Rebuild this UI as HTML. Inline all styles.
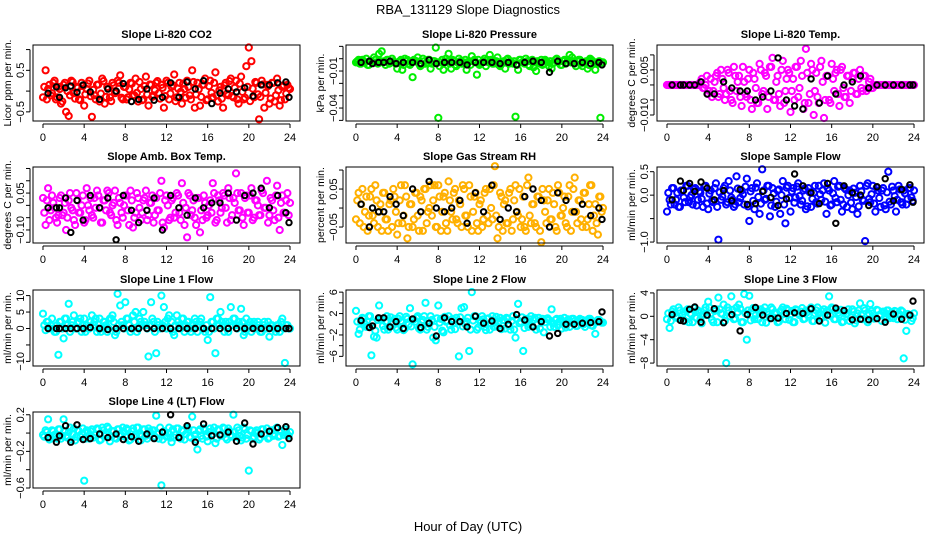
<!DOCTYPE html>
<html><head><meta charset="utf-8"><style>
html,body{margin:0;padding:0;background:#fff;}
svg{display:block;font-family:"Liberation Sans",Arial,sans-serif;}
</style></head><body>
<svg id="chart" width="936" height="540" viewBox="0 0 936 540">
<text x="468" y="14" text-anchor="middle" font-size="13">RBA_131129  Slope Diagnostics</text>
<text x="468" y="531" text-anchor="middle" font-size="13">Hour of Day (UTC)</text>
</svg>
<script>
const colorHours=[0,0.25,0.5,0.75,1,1.25,1.5,1.75,2,2.25,2.5,2.75,3,3.25,3.5,3.75,4,4.25,4.5,4.75,5,5.25,5.5,5.75,6,6.25,6.5,6.75,7,7.25,7.5,7.75,8,8.25,8.5,8.75,9,9.25,9.5,9.75,10,10.25,10.5,10.75,11,11.25,11.5,11.75,12,12.25,12.5,12.75,13,13.25,13.5,13.75,14,14.25,14.5,14.75,15,15.25,15.5,15.75,16,16.25,16.5,16.75,17,17.25,17.5,17.75,18,18.25,18.5,18.75,19,19.25,19.5,19.75,20,20.25,20.5,20.75,21,21.25,21.5,21.75,22,22.25,22.5,22.75,23,23.25,23.5,23.75,24];
const colorHours2=[0.125,0.375,0.625,0.875,1.125,1.375,1.625,1.875,2.125,2.375,2.625,2.875,3.125,3.375,3.625,3.875,4.125,4.375,4.625,4.875,5.125,5.375,5.625,5.875,6.125,6.375,6.625,6.875,7.125,7.375,7.625,7.875,8.125,8.375,8.625,8.875,9.125,9.375,9.625,9.875,10.125,10.375,10.625,10.875,11.125,11.375,11.625,11.875,12.125,12.375,12.625,12.875,13.125,13.375,13.625,13.875,14.125,14.375,14.625,14.875,15.125,15.375,15.625,15.875,16.125,16.375,16.625,16.875,17.125,17.375,17.625,17.875,18.125,18.375,18.625,18.875,19.125,19.375,19.625,19.875,20.125,20.375,20.625,20.875,21.125,21.375,21.625,21.875,22.125,22.375,22.625,22.875,23.125,23.375,23.625,23.875];
const blackHours=[0.5,1.3,1.6,2.2,2.7,3.3,3.9,4.6,5.5,6.3,7.1,7.8,8.6,9.3,10.1,10.8,11.6,12.4,13.2,14,14.8,15.6,16.4,17.2,18,18.8,19.6,20.4,21.2,22,22.8,23.6,23.9];
const xTicks=[0,4,8,12,16,20,24];

const co2Vals=[-15,50,5,-10,20,-20,10,-30,15,-50,-60,25,-5,10,-20,20,-35,5,25,-62,-10,15,-25,30,-30,10,-15,20,-5,25,38,-20,10,-15,20,-10,30,-25,5,-20,35,-35,15,-10,20,-5,15,-40,25,-20,10,40,-15,20,-30,5,25,-10,50,-40,20,-35,15,30,-20,25,-15,45,-25,10,-40,20,-10,30,-15,25,-30,35,-20,60,105,72,-15,20,-68,25,-40,15,-30,20,-25,30,-35,10,-20,15,5];
const co2Vals2=[10,-20,15,-5,25,-15,5,-25,20,0,-10,22,-18,8,-22,12,-8,18,-12,3,-20,16,-6,24,-14,6,-24,14,-2,20,-16,10,-20,4,18,-10,-4,22,-22,12,-8,16,-14,2,24,-18,8,-12,20,-6,14,-24,6,-2,18,-16,10,-20,22,-8,4,-14,16,-22,12,-4,20,-10,2,-18,14,-6,24,-12,8,-20,18,-2,-16,10,-24,6,22,-8,-14,16,-4,12,-18,20,-10,2,-22,14,-6,8];
const co2Black=[-5,10,-15,8,12,-3,15,-2,-20,5,0,18,-25,-20,5,-22,-15,20,-15,22,5,25,-30,-5,5,-2,8,-12,15,15,20,22,-15];
const presVals=[-3,-1,-4,-2,0,-5,-2,1,-3,4,6,-2,-1,-4,0,-3,-8,-2,-9,0,-1,-5,-15,-2,1,-6,0,-4,-1,-8,-2,9,-48,-3,-9,0,4,-8,-2,-6,0,-4,-3,-9,-2,2,-1,-13,-5,-3,0,-1,3,-4,-2,1,-6,-3,-8,0,-2,-4,-47,-9,-1,-3,0,-5,-2,-7,-10,-3,-1,-4,-2,-6,-8,-3,0,-2,-5,-1,-3,3,1,-4,-2,-1,-6,-3,-8,0,-2,-9,-4,-48,-3];
const presVals2=[-2,-4,-1,-3,-5,-2,-3,-1,-4,-2,-3,-5,-1,-3,-2,-4,-3,-1,-5,-2,-4,-3,-1,-2,-4,-5,-2,-3,-1,-4,-2,-3,-6,-1,-3,-2,-4,-1,-5,-3,-2,-4,-1,-3,-5,-2,-3,-1,-4,-2,-6,-3,-1,-4,-2,-5,-3,-2,-1,-4,-3,-2,-5,-1,-3,-4,-2,-6,-1,-3,-2,-4,-5,-1,-3,-2,-4,-1,-3,-5,-2,-4,-1,-3,-2,-6,-1,-4,-3,-2,-5,-1,-3,-4,-2,-3];
const presBlack=[-3,-2,-4,-3,-3,-2,-4,-3,-3,-4,-1,-4,-3,-3,-3,-5,-3,-3,-3,-4,-3,-5,-3,-2,-3,-11,-2,-4,-4,-3,-4,-3,-5];
const tempVals=[0,0,0,0,0,0,0,0,0,0,0,0,0,1,-1,0,-3,2,-2,3,-4,5,-1,-3,4,-5,6,-2,3,-7,1,-4,5,-8,2,-6,7,-3,4,-8,6,9,-5,3,-7,8,-2,5,-9,2,6,-4,8,-8,12,-6,7,-10,4,-6,8,-11,3,-5,7,-2,5,-7,6,-4,3,-6,2,4,-3,5,-2,3,-1,2,-1,0,0,0,0,0,0,0,0,0,0,0,0,0,0,0,0];
const tempVals2=[0,0,0,0,0,0,0,0,0,0,0,0,0,2,-1,3,-2,-4,1,4,-3,2,-5,5,-2,-6,3,1,-4,6,-3,2,-5,4,-1,-6,5,-2,3,-4,6,-5,1,-3,5,-6,2,4,-2,-5,6,-1,3,-6,4,-3,5,-2,-4,6,1,-5,3,-6,2,4,-3,5,-1,-4,3,-2,4,-3,2,-1,3,-2,1,-1,0,0,0,0,0,0,0,0,0,0,0,0,0,0,0,0];
const tempBlack=[0,0,0,0,0,1,-3,-3,1,-1,-2,-2,-5,-4,-2,9,-5,-7,-8,2,-6,3,-3,0,1,3,-1,0,0,0,0,0,0];
const ambVals=[3,-8,7,-2,1,-5,-4,4,-3,-10,2,-1,-6,5,-3,0,-7,7,-2,-4,3,6,-1,-7,2,6,-3,0,6,-8,1,-5,4,-2,6,-9,-3,3,-6,2,6,-4,1,-7,3,-2,10,-9,4,-6,2,-5,5,-3,9,-8,-13,4,-2,-5,3,-11,-6,1,-4,2,9,-7,4,-3,5,-1,7,-6,3,13,-2,5,-8,4,-3,7,-5,2,-4,6,-1,10,-4,2,-6,8,-10,4,-3,5,1];
const ambVals2=[-3,2,-6,4,-1,-7,3,-4,1,-5,5,-2,-8,2,-3,4,-6,0,3,-5,-1,4,-7,2,-2,5,-4,1,-6,3,-3,0,4,-8,2,-5,5,-1,-3,3,-6,1,4,-4,-2,5,-7,2,0,-5,3,-3,4,-6,1,-1,5,-4,2,-8,3,-2,4,-5,0,-3,5,-6,2,-1,4,-7,3,-4,1,5,-2,-5,3,-3,4,-6,2,0,-4,5,-1,-7,3,-2,4,-5,1,-3,2,-4];
const ambBlack=[-1,-1,-1,3,-11,2,-6,4,-1,3,-14,4,-2,-7,-2,3,-10,4,-1,-4,3,-1,1,1,5,-6,4,5,7,-1,4,-3,-7];
const rhVals=[-3,4,1,-5,3,-2,5,-4,2,-1,-6,4,-3,1,-5,3,-7,2,-4,6,-8,1,-5,4,-2,3,-6,5,-1,6,2,-5,6,-6,3,-4,7,-1,4,-3,2,-5,5,-2,6,-6,3,-4,1,-5,4,-2,5,-3,11,-8,4,-6,2,-4,5,-3,6,-2,-5,3,-6,8,-4,1,-5,3,-9,2,-4,5,-3,1,-6,4,-2,3,-5,6,-1,8,-4,2,-5,4,-3,6,-6,1,-7,3,0];
const rhVals2=[2,-4,5,-1,-6,3,-2,6,-5,1,4,-3,-6,2,5,-1,-4,6,-2,3,-5,1,-3,4,-6,2,5,-4,0,-2,6,-5,3,-1,4,-6,2,-3,5,-4,1,6,-2,-5,3,-1,4,-6,2,-3,5,-4,0,6,-2,-5,3,1,-4,4,-6,2,-1,5,-3,-5,6,-2,1,-4,3,-6,5,-1,2,-3,4,-5,6,-2,0,-4,3,-6,5,-1,2,-3,4,-5,1,6,-2,-4,3,-1];
const rhBlack=[1,-5,0,-1,-1,3,1,-2,5,-1,7,0,-1,0,2,-4,4,-1,6,-3,0,-1,3,5,2,-5,4,2,-1,1,-2,0,-3];
const flowVals=[-35,-10,15,-20,5,-25,10,-15,20,-5,-20,15,-10,5,-25,20,-30,10,-15,25,-95,-10,15,-20,30,-5,-25,40,-15,10,-20,35,-55,15,-30,25,-40,55,-10,20,-45,15,-25,10,-40,30,-60,20,-35,15,-5,25,-20,10,-30,15,-25,5,-15,20,-10,25,-40,10,-20,30,-15,20,-35,15,-25,10,-30,5,-40,20,-10,-98,25,-15,20,-35,10,-25,15,-30,50,-20,10,-35,20,-15,10,-20,15,-5,10];
const flowVals2=[5,-20,15,-10,-25,10,-5,20,-15,0,12,-22,8,-8,18,-18,3,-12,15,-25,6,-3,20,-15,10,-10,-20,14,-6,2,18,-24,8,-12,16,-4,-18,10,-8,20,-22,4,-14,12,0,-20,16,-6,8,-16,18,-2,-12,14,-24,6,-8,20,-18,2,10,-14,15,-22,4,-6,18,-10,-20,12,0,-16,14,-4,-24,8,-12,20,-8,2,-18,16,-6,10,-22,6,-14,18,-2,-10,12,-20,4,-8,15,-12];
const flowBlack=[-10,30,10,25,8,28,15,-10,10,-12,12,-20,-18,8,-5,-22,-8,45,20,5,-18,25,-60,20,5,0,-22,18,35,-12,12,22,-15];
const line1Vals=[4.5,-0.5,2,1,0,-1,-8,2,-3,3,7.5,1,4,0,2,-1,3,1,0,4,2,-1,3,0,2,-1,3,4,-2,10.5,7,1,8,3,-1,4,5,0,2,5,1,-8.5,8,2,-7.5,1,10,6.5,0,4,2,-2,4,1,3,-1,2,0,1,3,-1,2,0,-1,-3.5,9.5,2,-7.5,3,5,1,2,-1,6.5,3,1,2,6,-2,3,1,-1,2,0,1,-1,2,0,-2.5,1,0,1,-1,3,-10.5,1,0];
const line1Vals2=[1,2,0,3,-1,1,2,0,3,1,-1,2,0,2,3,1,-1,0,2,1,3,0,-1,2,1,0,3,2,-1,1,2,0,3,1,0,2,-1,3,1,2,0,1,3,-1,2,0,1,2,3,0,-1,1,2,0,3,1,2,-1,0,2,1,3,0,1,-1,2,0,3,1,2,-1,0,2,1,3,0,1,2,-1,0,2,1,0,2,-1,1,0,2,1,0,-1,1,2,0,1,0];
const line1Black=[0,0,0,0,0,0,0,0.3,0,-0.3,0,0,0,0,0,0,0,0,0,0,0,0,0,0,0,0,0,0,0,0,0,0,0];
const line2Vals=[2.5,-1.8,0.5,1,-0.5,1.5,-5.8,-2.3,-2.5,3.5,0.8,-1,1.5,-0.5,0.5,1,-1,1.5,0.3,-0.8,1,3,-7.5,0.5,1.5,-1,0.8,4,-0.5,1.5,-2.5,-3,3.5,1,-1.5,0.5,1.5,-1,0.8,1.2,-6,3,3.2,0.5,-5,6,1.5,-1,0.8,1.5,-0.5,1,-1,1.5,0.5,-0.5,1.2,0.8,-0.8,1,-1,1.5,-2.5,3.8,0.5,-5,1,-0.5,1.5,0.8,-1,1.2,0.5,-1.5,1,0.8,2.8,-0.5,1,0.5,-0.8,1.2,0.3,-0.5,1,0.6,-0.3,1,0.8,-0.5,0.8,1,-0.3,-1.8,0.8,0.5,0.3];
const line2Vals2=[0.5,-1,1.2,0,-0.5,1.5,0.3,-1.2,0.8,1,-0.3,0.5,-1,1.3,0.2,-0.6,1,0.6,-1.1,1.4,0,-0.4,0.9,1.2,-0.8,0.4,1.5,-1,0.2,0.8,-0.5,1.1,0.3,-1.2,1.4,0.6,-0.2,1,-0.9,0.5,1.3,-0.4,0,1.2,-1,0.7,1.5,-0.6,0.3,0.9,-1.1,1.1,0.1,-0.5,1.4,0.4,-0.9,0.8,1.2,-0.3,0.6,-1,1,0.2,1.3,-0.7,0.5,0.9,-0.4,1.2,0,-0.8,1,0.4,1.1,-0.5,0.2,0.8,-0.2,1,0.5,-0.6,0.9,0.3,1,-0.3,0.6,0.8,0,0.7,1,-0.2,0.5,0.4,0.8,0.3];
const line2Black=[0.7,-0.6,-0.3,1.2,1.2,-0.5,0.5,-0.8,1,-0.6,0.2,-2.2,1.2,0.5,0.5,-0.5,1.5,0.2,0.6,-0.8,0,1.8,0.8,-0.5,0.5,-2.2,-1.7,0,0,0.2,0.3,0.5,2.3];
const line3Vals=[-0.5,-2,0.8,0.5,-0.3,1,0.2,-0.8,1.2,0.5,-1,0.8,1,-0.5,0.3,1.5,2.5,0.5,-1,1.2,3.2,0.5,2,-8,1,3.4,-0.5,1.5,2,-1,3.8,-4,3.5,1,-0.5,1.2,0.5,-1,1.5,0.8,-0.3,1.2,0.5,-1,0.8,1.5,-0.5,1,0.3,-1,1.2,0.5,0.8,-0.5,1,0.3,1.5,-0.8,1,0.5,-0.3,1.2,0.8,3.4,1.5,-0.5,1,0.3,-1,0.8,0.5,-0.8,1.2,-1.2,0.5,2.2,-0.5,1,-1,2.1,0.5,-0.3,1,0.3,0.8,-0.5,1,0.5,-0.3,0.8,0.5,1,-7.2,-2.5,0.3,-0.8,0.5];
const line3Vals2=[0.5,-0.8,1.2,0,1.5,-0.5,0.8,1,-1,0.3,1.4,-0.3,0.6,-1.2,1,0.2,1.5,-0.6,0.9,-1,1.2,0.4,-0.8,1.5,0,1.1,-0.4,0.7,1.3,-1,0.5,1,-0.7,1.4,0.2,-0.5,1.2,0.8,-1.1,0.3,1.5,-0.2,0.6,-0.9,1.1,0.4,1.3,-0.6,0.9,-1,1,0.2,1.4,-0.4,0.7,1.2,-0.8,0.5,1.5,-0.3,0.8,-1.1,1,0.1,1.3,-0.5,0.6,1.1,-0.9,0.4,1.2,-0.2,0.8,-0.7,1,0.3,1.4,-0.6,0.5,0.9,-0.4,1.1,0.2,-0.8,0.7,1,-0.3,0.5,0.9,-0.5,0.3,0.8,-0.6,0.4,0.2,-0.3];
const line3Black=[0.3,-0.7,-0.8,1.2,1.6,-1,0.2,1.3,-1.1,0.3,-2.5,0.3,1.5,0.2,-0.4,-0.3,0.5,0.6,0.5,1.3,-0.8,0.2,1.4,1,-0.6,-0.5,-0.6,-0.4,-1,0.4,-0.5,0.2,2.6];
const line4Vals=[-2,3,15,-5,2,-1,4,-6,15,-3,1,-7,5,-4,2,-1,-52,3,-6,4,-2,5,-8,6,-3,7,-9,2,-5,4,-1,6,-4,3,-7,5,-2,6,-8,4,-3,5,-1,3,19,-6,-57,2,-4,6,-10,-5,5,-3,3,-7,6,-4,18,-2,-18,4,-6,3,-9,5,-1,-11,4,-3,6,-5,5,-2,20,-4,3,-8,6,-6,-41,2,-4,3,-7,4,-2,5,-5,3,-1,6,-3,-13,4,-2,1];
const line4Vals2=[-4,1,-7,3,-2,-6,4,-3,2,-5,6,-1,-8,3,-4,5,-6,1,2,-5,-2,4,-7,3,-1,5,-4,2,-6,4,-3,1,5,-8,2,-4,6,-2,-3,4,-6,2,3,-4,-1,6,-7,1,0,-5,4,-2,5,-6,2,-1,4,-5,3,-7,2,-3,5,-4,1,-2,6,-6,3,-1,5,-7,2,-4,1,6,-3,-5,4,-2,3,-6,1,0,-5,4,-1,-6,2,-3,5,-4,2,-2,1,-3];
const line4Black=[-5,-10,-3,8,-10,9,-7,-6,-1,-5,-1,-7,-4,-9,-1,-6,1,20,-5,8,-10,10,-3,-2,1,-9,11,-12,-1,2,6,7,-6];

const co2Ticks=[1,0.5,0,-0.5], co2Labels=["","0.5","","−0.5"];
const presTicks=[0.01,0,-0.01,-0.02,-0.03,-0.04,-0.05], presLabels=["","","−0.01","","","−0.04",""];
const tempTicks=[0.01,0.005,0,-0.005,-0.01], tempLabels=["","0.005","","","−0.010"];
const ambTicks=[0.15,0.1,0.05,0,-0.05,-0.1,-0.15], ambLabels=["","","0.05","","","−0.10",""];
const rhTicks=[0.1,0.05,0,-0.05], rhLabels=["","0.05","","−0.05"];
const flowTicks=[0.5,0,-0.5,-1], flowLabels=["0.5","0.0","","−1.0"];
const line1Ticks=[10,5,0,-5,-10], line1Labels=["10","5","0","","−10"];
const line2Ticks=[6,4,2,0,-2,-4,-6], line2Labels=["6","","2","","−2","","−6"];
const line3Ticks=[4,0,-4,-8], line3Labels=["4","0","−4","−8"];
const line4Ticks=[0.2,0,-0.2,-0.4,-0.6], line4Labels=["0.2","","−0.2","","−0.6"];

const NS="http://www.w3.org/2000/svg";
const svg=document.getElementById('chart');
const colLeft=[33,346,657], rowTop=[45,167,290,412], boxW=267, boxH=76;
const panels=[
 {key:'co2',title:'Slope Li-820 CO2',ylab:'Licor ppm per min.',c:0,r:0,d:[-0.72,1.11],s:0.01,vals:co2Vals,vals2:co2Vals2,blk:co2Black,ticks:co2Ticks,labels:co2Labels,color:'#ff0000'},
 {key:'pressure',title:'Slope Li-820 Pressure',ylab:'kPa per min.',c:1,r:0,d:[-0.0505,0.0111],s:0.001,vals:presVals,vals2:presVals2,blk:presBlack,ticks:presTicks,labels:presLabels,color:'#00ee00'},
 {key:'temp',title:'Slope Li-820 Temp.',ylab:'degrees C per min.',c:2,r:0,d:[-0.012,0.0133],s:0.001,vals:tempVals,vals2:tempVals2,blk:tempBlack,ticks:tempTicks,labels:tempLabels,color:'#ff00ff'},
 {key:'amb-box-temp',title:'Slope Amb. Box Temp.',ylab:'degrees C per min.',c:0,r:1,d:[-0.153,0.156],s:0.01,vals:ambVals,vals2:ambVals2,blk:ambBlack,ticks:ambTicks,labels:ambLabels,color:'#ff00ff'},
 {key:'gas-rh',title:'Slope Gas Stream RH',ylab:'percent per min.',c:1,r:1,d:[-0.092,0.108],s:0.01,vals:rhVals,vals2:rhVals2,blk:rhBlack,ticks:rhTicks,labels:rhLabels,color:'#ffb000'},
 {key:'sample-flow',title:'Slope Sample Flow',ylab:'ml/min per min.',c:2,r:1,d:[-1.02,0.6],s:0.01,vals:flowVals,vals2:flowVals2,blk:flowBlack,ticks:flowTicks,labels:flowLabels,color:'#0000ff'},
 {key:'line1-flow',title:'Slope Line 1 Flow',ylab:'ml/min per min.',c:0,r:2,d:[-11.4,11.7],s:1,vals:line1Vals,vals2:line1Vals2,blk:line1Black,ticks:line1Ticks,labels:line1Labels,color:'#00ffff'},
 {key:'line2-flow',title:'Slope Line 2 Flow',ylab:'ml/min per min.',c:1,r:2,d:[-7.8,6.4],s:1,vals:line2Vals,vals2:line2Vals2,blk:line2Black,ticks:line2Ticks,labels:line2Labels,color:'#00ffff'},
 {key:'line3-flow',title:'Slope Line 3 Flow',ylab:'ml/min per min.',c:2,r:2,d:[-8.5,4.5],s:1,vals:line3Vals,vals2:line3Vals2,blk:line3Black,ticks:line3Ticks,labels:line3Labels,color:'#00ffff'},
 {key:'line4-flow',title:'Slope Line 4 (LT) Flow',ylab:'ml/min per min.',c:0,r:3,d:[-0.6,0.23],s:0.01,vals:line4Vals,vals2:line4Vals2,blk:line4Black,ticks:line4Ticks,labels:line4Labels,color:'#00ffff'}
];
function mk(tag,attrs,parent){const e=document.createElementNS(NS,tag);for(const k in attrs)e.setAttribute(k,attrs[k]);parent.appendChild(e);return e;}
panels.forEach(p=>{
 const L=colLeft[p.c], T=rowTop[p.r];
 const g=mk('g',{},svg);
 
 
 const xs=h=>L+(h+0.97)/25.94*boxW;
 const ys=v=>T+boxH-(v-p.d[0])/(p.d[1]-p.d[0])*boxH;
 const t=mk('text',{x:L+boxW/2,y:T-7,'text-anchor':'middle','font-size':'11','font-weight':'bold'},g);
 t.textContent=p.title;
 
 
 const yl=mk('text',{transform:`translate(${L-22},${T+boxH/2}) rotate(-90)`,'text-anchor':'middle','font-size':'10.5'},g);
 yl.textContent=p.ylab;
 
 
 const pts=mk('g',{fill:'none',stroke:p.color,'stroke-width':'2'},g);
 
 
 const n2=Math.min(colorHours2.length,p.vals2.length);
 for(let i=0;i<n2;i++){
  const c=mk('circle',{cx:xs(colorHours2[i]).toFixed(1),cy:ys(p.vals2[i]*p.s).toFixed(1),r:'3.1'},pts);
  
  
 }
 const n=Math.min(colorHours.length,p.vals.length);
 for(let i=0;i<n;i++){
  const c=mk('circle',{cx:xs(colorHours[i]).toFixed(1),cy:ys(p.vals[i]*p.s).toFixed(1),r:'3.1'},pts);
  
  
 }
 const bp=mk('g',{fill:'none',stroke:'#000','stroke-width':'2'},g);
 
 
 const m=Math.min(blackHours.length,p.blk.length);
 for(let i=0;i<m;i++){
  const c=mk('circle',{cx:xs(blackHours[i]).toFixed(1),cy:ys(p.blk[i]*p.s).toFixed(1),r:'2.7'},bp);
  
  
 }
 const box=mk('rect',{x:L,y:T,width:boxW,height:boxH,fill:'none',stroke:'#000','stroke-width':'1'},g);
 
 
 const xa=mk('g',{},g);
 
 
 mk('line',{x1:xs(xTicks[0]),x2:xs(xTicks[xTicks.length-1]),y1:T+boxH+3,y2:T+boxH+3,stroke:'#000'},xa);
 xTicks.forEach(h=>{
  mk('line',{x1:xs(h),x2:xs(h),y1:T+boxH+3,y2:T+boxH+7,stroke:'#000'},xa);
  const tl=mk('text',{x:xs(h),y:T+boxH+20,'text-anchor':'middle','font-size':'11'},xa);
  tl.textContent=h;
  
  
 });
 const ya=mk('g',{},g);
 
 
 mk('line',{x1:L-3,x2:L-3,y1:ys(p.ticks[0]),y2:ys(p.ticks[p.ticks.length-1]),stroke:'#000'},ya);
 p.ticks.forEach((v,i)=>{
  const y=ys(v);
  mk('line',{x1:L-7,x2:L-3,y1:y,y2:y,stroke:'#000'},ya);
  if(p.labels[i]){
   const tl=mk('text',{transform:`translate(${L-9},${y}) rotate(-90)`,'text-anchor':'middle','font-size':'11'},ya);
   tl.textContent=p.labels[i];
   
   
  }
 });
});
</script>
</body></html>
